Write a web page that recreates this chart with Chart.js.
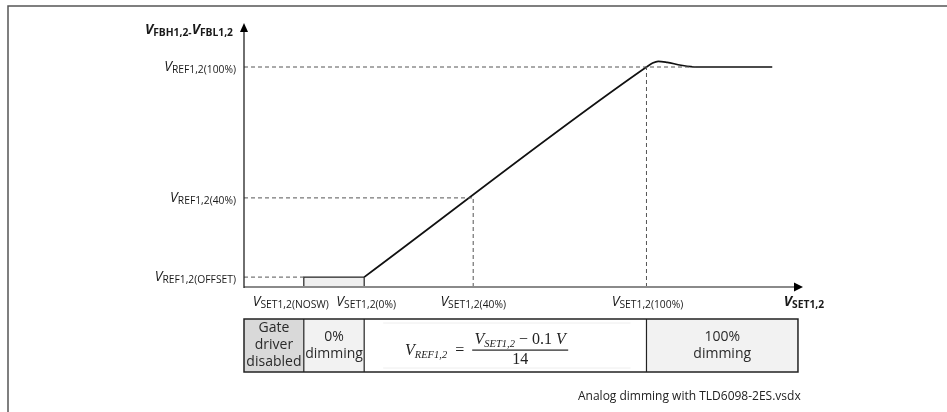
<!DOCTYPE html>
<html>
<head>
<meta charset="utf-8">
<script src="https://cdn.jsdelivr.net/npm/chart.js@4.4.0/dist/chart.umd.min.js"></script>
<style>
  html, body { margin: 0; padding: 0; background: #fff; }
</style>
</head>
<body>
<canvas id="chart" width="947" height="412"></canvas>
<script>
// transfer curve V_FB vs V_SET (abstract units, x 0..1, y 0..1.2)
const curveX = [0.215, 0.72, 0.731, 0.741, 0.757, 0.782, 0.81, 0.945];
const curveY = [0.045, 1.0, 1.018, 1.026, 1.021, 1.008, 1.0, 1.0];

// shaded "gate driver disabled" box between NOSW and 0%
const boxX = [0.107, 0.107, 0.215, 0.215];
const boxY = [0, 0.045, 0.045, 0];

// reference levels on the y axis and where their dashed line stops
const refLevels = [0.045, 0.405, 1.0];
const refEnds = [0.107, 0.41, 0.81];
const refLabels = ['REF1,2(OFFSET)', 'REF1,2(40%)', 'REF1,2(100%)'];

// set points on the x axis
const setPoints = [0.107, 0.215, 0.41, 0.72];
const setLabels = ['SET1,2(NOSW)', 'SET1,2(0%)', 'SET1,2(40%)', 'SET1,2(100%)'];
const setLabelShift = [-13, 2, 0, 1];
const dropX = [0.41, 0.72];
const dropY = [0.405, 1.0];

// table under the axis
const cellEdges = [0, 0.107, 0.215, 0.72, 0.991];
const cellFills = ['#d9d9d9', '#f2f2f2', '#ffffff', '#f2f2f2'];
const cellTexts = [['Gate', 'driver', 'disabled'], ['0%', 'dimming'], [], ['100%', 'dimming']];

const SANS = '"Open Sans", sans-serif';
const SERIF = '"Liberation Serif", serif';
const TXT = '#1a1a1a';

function drawRuns(ctx, runs, x, y, align) {
  let total = 0;
  runs.forEach(r => { ctx.font = r.f; r.w = ctx.measureText(r.t).width; total += r.w; });
  let cx = align === 'right' ? x - total : align === 'center' ? x - total / 2 : x;
  ctx.textAlign = 'left';
  ctx.textBaseline = 'alphabetic';
  runs.forEach(r => { ctx.font = r.f; ctx.fillText(r.t, cx, y + (r.dy || 0)); cx += r.w; });
}

function vRuns(sub, bold) {
  const b = bold ? 'bold ' : '';
  return [
    { t: 'V', f: b + 'italic 14px ' + SANS },
    { t: sub, f: b + '10.3px ' + SANS, dy: 2 }
  ];
}

const datasets = [];
const dash = { borderColor: '#555', borderWidth: 1, borderDash: [4, 3], pointRadius: 0, fill: false };

refLevels.forEach((lv, i) => {
  datasets.push(Object.assign({ data: [{ x: 0, y: lv }, { x: refEnds[i], y: lv }] }, dash));
});
dropX.forEach((dx, i) => {
  datasets.push(Object.assign({ data: [{ x: dx, y: 0 }, { x: dx, y: dropY[i] }] }, dash));
});
datasets.push({
  data: boxX.map((x, i) => ({ x, y: boxY[i] })),
  borderColor: '#222', borderWidth: 1.2, backgroundColor: '#efefef',
  fill: 'origin', pointRadius: 0
});
datasets.push({
  data: curveX.map((x, i) => ({ x, y: curveY[i] })),
  borderColor: '#111', borderWidth: 1.7, pointRadius: 0,
  cubicInterpolationMode: 'monotone', fill: false
});

const decor = {
  id: 'decor',
  afterDraw(chart) {
    const ctx = chart.ctx;
    const xs = chart.scales.x, ys = chart.scales.y;
    const x0 = xs.getPixelForValue(0), y0 = ys.getPixelForValue(0);
    const xEnd = xs.getPixelForValue(1), yTop = ys.getPixelForValue(1.2);
    ctx.save();

    // frame
    ctx.strokeStyle = '#555';
    ctx.lineWidth = 1.5;
    ctx.beginPath();
    ctx.moveTo(8, 412); ctx.lineTo(8, 6); ctx.lineTo(947, 6);
    ctx.stroke();

    // axes
    ctx.strokeStyle = '#8a8a8a';
    ctx.lineWidth = 2;
    ctx.beginPath(); ctx.moveTo(x0, y0); ctx.lineTo(xEnd - 6, y0); ctx.stroke();
    ctx.strokeStyle = '#222';
    ctx.lineWidth = 1.3;
    ctx.beginPath(); ctx.moveTo(x0, y0 + 1); ctx.lineTo(x0, yTop + 6); ctx.stroke();
    ctx.fillStyle = '#000';
    ctx.beginPath();
    ctx.moveTo(xEnd, y0); ctx.lineTo(xEnd - 9, y0 - 4.5); ctx.lineTo(xEnd - 9, y0 + 4.5);
    ctx.closePath(); ctx.fill();
    ctx.beginPath();
    ctx.moveTo(x0, yTop); ctx.lineTo(x0 - 4, yTop + 9); ctx.lineTo(x0 + 4, yTop + 9);
    ctx.closePath(); ctx.fill();

    ctx.fillStyle = TXT;
    // axis titles
    drawRuns(ctx, vRuns('FBH1,2-', true).concat(vRuns('FBL1,2', true)), x0 - 11, yTop + 11, 'right');
    drawRuns(ctx, vRuns('SET1,2', true), xEnd + 1, y0 + 19, 'center');

    // y labels
    refLevels.forEach((lv, i) => {
      drawRuns(ctx, vRuns(refLabels[i]), x0 - 8, ys.getPixelForValue(lv) + 4, 'right');
    });
    // x labels
    setPoints.forEach((sp, i) => {
      drawRuns(ctx, vRuns(setLabels[i]), xs.getPixelForValue(sp) + setLabelShift[i], y0 + 19, 'center');
    });

    // table
    const tTop = y0 + 32, tH = 53;
    for (let i = 0; i < cellFills.length; i++) {
      const a = xs.getPixelForValue(cellEdges[i]), b = xs.getPixelForValue(cellEdges[i + 1]);
      ctx.fillStyle = cellFills[i];
      ctx.fillRect(a, tTop, b - a, tH);
      const lines = cellTexts[i];
      ctx.fillStyle = '#2a2a2a';
      ctx.font = '14px ' + SANS;
      ctx.textAlign = 'center';
      ctx.textBaseline = 'middle';
      const start = tTop + tH / 2 - (lines.length - 1) * 8.5;
      lines.forEach((ln, k) => ctx.fillText(ln, (a + b) / 2, start + k * 17));
    }
    ctx.strokeStyle = '#222';
    ctx.lineWidth = 1.5;
    const tL = xs.getPixelForValue(cellEdges[0]), tR = xs.getPixelForValue(cellEdges[cellEdges.length - 1]);
    ctx.strokeRect(tL, tTop, tR - tL, tH);
    ctx.lineWidth = 1.2;
    for (let i = 1; i < cellEdges.length - 1; i++) {
      const e = xs.getPixelForValue(cellEdges[i]);
      ctx.beginPath(); ctx.moveTo(e, tTop); ctx.lineTo(e, tTop + tH); ctx.stroke();
    }

    // formula in the middle cell
    const fa = xs.getPixelForValue(cellEdges[2]), fb = xs.getPixelForValue(cellEdges[3]);
    ctx.strokeStyle = '#eeeeee';
    ctx.lineWidth = 1;
    ctx.beginPath();
    ctx.moveTo(fa + 19, tTop + 4); ctx.lineTo(fb - 16, tTop + 4);
    ctx.moveTo(fa + 19, tTop + tH - 4); ctx.lineTo(fb - 16, tTop + tH - 4);
    ctx.stroke();
    const barL = fa + 108, barR = fa + 204, barY = tTop + 31;
    ctx.fillStyle = '#222';
    drawRuns(ctx, [
      { t: 'V', f: 'italic 16px ' + SERIF },
      { t: 'REF1,2', f: 'italic 10.5px ' + SERIF, dy: 3 },
      { t: '  =  ', f: '16px ' + SERIF }
    ], barL, barY + 5, 'right');
    ctx.fillRect(barL, barY - 0.5, barR - barL, 1.2);
    drawRuns(ctx, [
      { t: 'V', f: 'italic 16px ' + SERIF },
      { t: 'SET1,2', f: 'italic 10.5px ' + SERIF, dy: 3 },
      { t: ' \u2212 0.1 ', f: '16px ' + SERIF },
      { t: 'V', f: 'italic 16px ' + SERIF }
    ], (barL + barR) / 2, barY - 6, 'center');
    drawRuns(ctx, [{ t: '14', f: '16px ' + SERIF }], (barL + barR) / 2, barY + 14, 'center');

    // caption
    ctx.fillStyle = '#222';
    drawRuns(ctx, [{ t: 'Analog dimming with TLD6098-2ES.vsdx', f: '12px ' + SANS }], 578, 400, 'left');
    ctx.restore();
  }
};

new Chart(document.getElementById('chart'), {
  type: 'scatter',
  data: { datasets },
  options: {
    responsive: false,
    animation: false,
    showLine: true,
    layout: { padding: { left: 244, right: 144, top: 23, bottom: 125 } },
    scales: {
      x: { type: 'linear', min: 0, max: 1, display: false },
      y: { type: 'linear', min: 0, max: 1.2, display: false }
    },
    plugins: { legend: { display: false }, tooltip: { enabled: false } },
    elements: { line: { tension: 0 } }
  },
  plugins: [decor]
});
</script>
</body>
</html>
